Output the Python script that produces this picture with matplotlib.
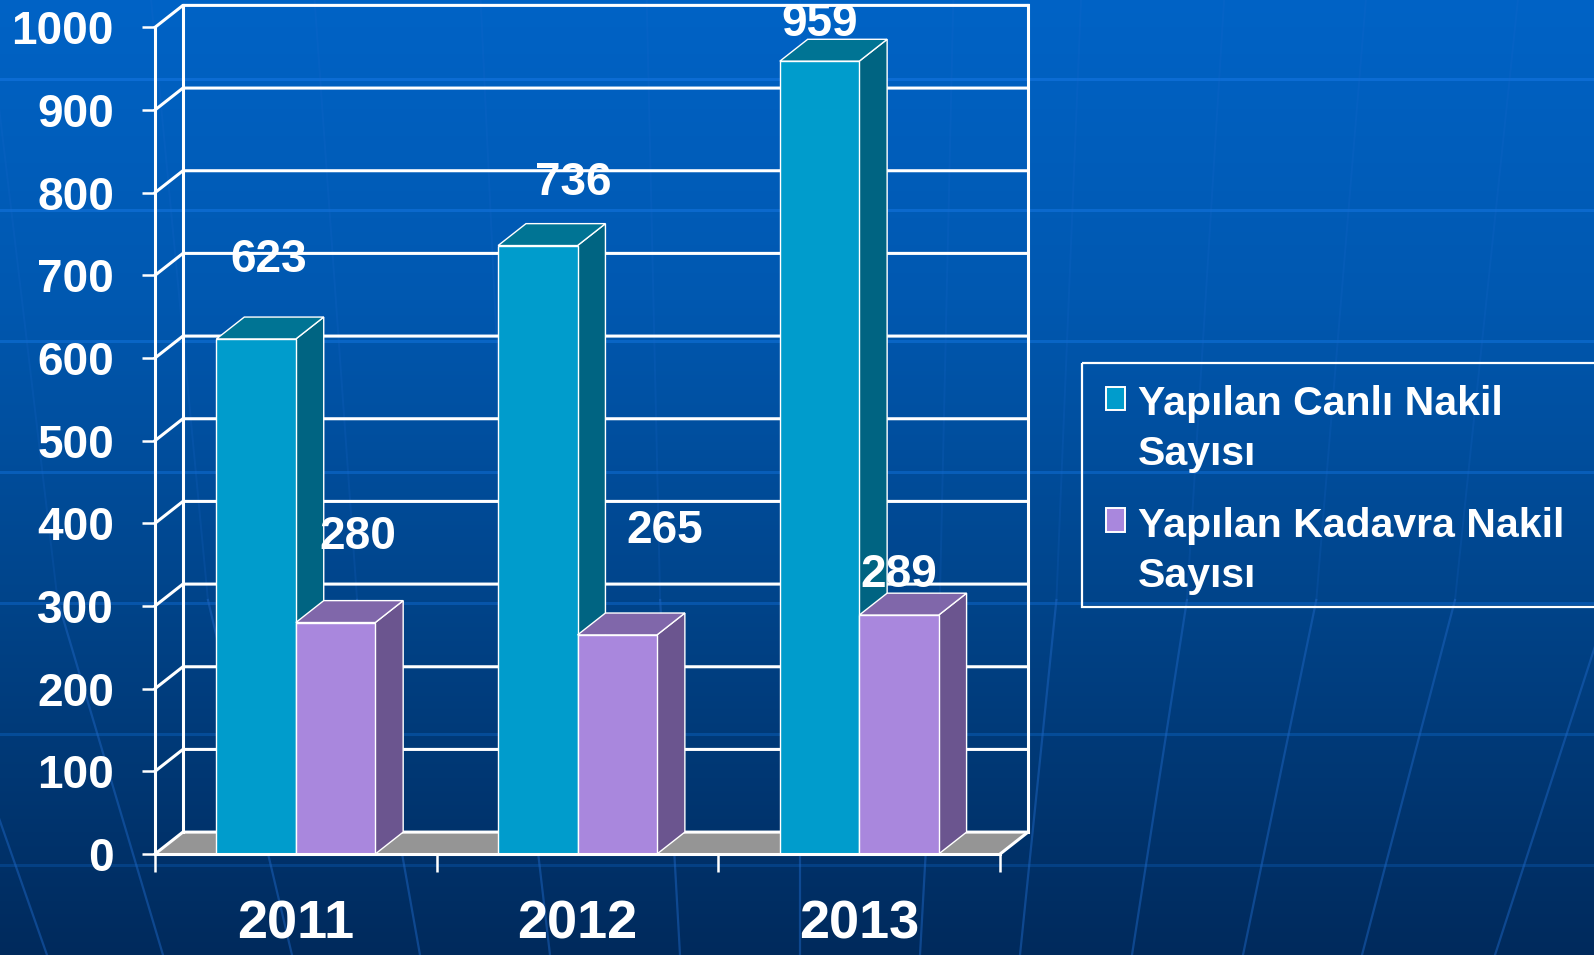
import numpy as np
import matplotlib.pyplot as plt
from matplotlib.patches import Polygon, Rectangle

plt.rcParams['font.family'] = ['Liberation Sans', 'DejaVu Sans']
plt.rcParams['font.weight'] = 'bold'

# data
years = ["2011", "2012", "2013"]
canli = [623, 736, 959]
kadavra = [280, 265, 289]
series_names = ["Yapılan Canlı Nakil\nSayısı", "Yapılan Kadavra Nakil\nSayısı"]
y_ticks = [0, 100, 200, 300, 400, 500, 600, 700, 800, 900, 1000]

# where the value labels sit relative to their bar (category units, value units)
label_dx = [[0.043, 0.125, 0.0], [0.078, 0.167, 0.0]]
label_dy = [[96, 76, 45], [104, 126, 48]]

W, H = 1594, 955
DX, DY = 0.099, 26.5      # fake depth of the 3d box
BAR_W = 0.282
front_c = ["#009ccc", "#a987dd"]
side_c = ["#006482", "#6b558f"]
top_c = ["#007494", "#8067aa"]
floor_c = "#959595"

fig = plt.figure(figsize=(W / 100, H / 100), dpi=100)

# background: vertical blue gradient with faint template lines
bg = fig.add_axes([0, 0, 1, 1], zorder=-1)
bg.set_xlim(0, W)
bg.set_ylim(H, 0)
bg.axis('off')
stops_y = [0, 300, 600, H]
stops = np.array([[0, 99, 198], [0, 88, 176], [0, 68, 138], [0, 42, 92]]) / 255
yy = np.arange(H)
grad = np.stack([np.interp(yy, stops_y, stops[:, k]) for k in range(3)], axis=1)
bg.imshow(grad[:, None, :], extent=[0, W, H, 0], aspect='auto', interpolation='bilinear')
for ys in np.arange(79, H, 131):
    bg.axhline(ys, color='#1272dc', lw=2.2, alpha=0.75 - 0.55 * ys / H)
for xb in [47, 163, 292, 420, 550, 680, 800, 920, 1020, 1132, 1243, 1362, 1495]:
    s = (xb - 800) / (955 - 3100)
    lo = np.linspace(600, H, 20)
    bg.plot(xb + s * (lo - 955), lo, color='#1d64c0', lw=1.6, alpha=0.5)
    x600 = xb + s * (600 - 955)
    hi = np.linspace(0, 600, 20)
    bg.plot(x600 + 0.4 * s * (hi - 600), hi, color='#1d6ad0', lw=1.4, alpha=0.18)

# main chart axes, x in category units, y in values
ax = fig.add_axes([155 / W, (H - 854) / H, 3.2 * 281.7 / W, 1030 * 0.8267 / H])
ax.set_xlim(0, 3.2)
ax.set_ylim(0, 1030)
ax.patch.set_alpha(0)
for sp in ax.spines.values():
    sp.set_visible(False)

n = len(years)
grid_kw = dict(color='white', lw=2.2, clip_on=False, solid_capstyle='projecting')

# floor
ax.add_patch(Polygon([(0, 0), (n, 0), (n + DX, DY), (DX, DY)], closed=True,
                     fc=floor_c, ec='none', zorder=1))
# back wall + side wall grid
for v in y_ticks:
    ax.plot([0, DX, n + DX], [v, v + DY, v + DY], zorder=2, **grid_kw)
ax.plot([DX, DX], [DY, y_ticks[-1] + DY], zorder=2, **grid_kw)
ax.plot([n + DX, n + DX], [DY, y_ticks[-1] + DY], zorder=2, **grid_kw)
ax.plot([0, 0], [0, y_ticks[-1]], zorder=2, **grid_kw)

# bars with fake depth
for k, vals in enumerate([canli, kadavra]):
    xs = np.arange(n) + 0.5 - BAR_W + k * BAR_W
    z = 3 + k
    for x0, v in zip(xs, vals):
        x1 = x0 + BAR_W
        ax.add_patch(Polygon([(x1, 0), (x1 + DX, DY), (x1 + DX, v + DY), (x1, v)],
                             closed=True, fc=side_c[k], ec='white', lw=1, zorder=z))
        ax.add_patch(Polygon([(x0, v), (x1, v), (x1 + DX, v + DY), (x0 + DX, v + DY)],
                             closed=True, fc=top_c[k], ec='white', lw=1, zorder=z))
    ax.bar(xs, vals, width=BAR_W, align='edge', color=front_c[k],
           edgecolor='white', lw=1, zorder=z)
    for i, (x0, v) in enumerate(zip(xs, vals)):
        ax.text(x0 + BAR_W / 2 + label_dx[k][i], v + label_dy[k][i], str(v),
                ha='center', va='center', color='white', fontsize=33,
                fontweight='bold', zorder=7, clip_on=False)

# front edges
ax.plot([0, n], [0, 0], zorder=6, **grid_kw)
ax.plot([n, n + DX], [0, DY], zorder=6, **grid_kw)

ax.set_yticks(y_ticks)
ax.set_yticklabels([str(t) for t in y_ticks])
ax.tick_params(axis='y', colors='white', length=9.6, width=1.8, pad=20, labelsize=33)
ax.set_xticks(range(n + 1))
ax.set_xticklabels([])
ax.set_xticks(np.arange(n) + 0.5, minor=True)
ax.set_xticklabels(years, minor=True)
ax.tick_params(axis='x', which='major', colors='white', length=13, width=1.8)
ax.tick_params(axis='x', which='minor', length=0, pad=33, labelsize=39,
               labelcolor='white')

# legend box, drawn in pixel space of the background axes
bg.add_patch(Rectangle((1082, 363), 600, 244, fc='none', ec='white', lw=1.6,
                       clip_on=False, zorder=3))
for k, name in enumerate(series_names):
    y0 = 415 + k * 121.7
    bg.add_patch(Rectangle((1106.5, y0 - 28.3), 18.5, 23.3, fc=front_c[k],
                           ec='white', lw=1.4, zorder=3))
    for j, line in enumerate(name.split("\n")):
        bg.text(1138, y0 + j * 50, line, color='white', fontsize=29.5,
                fontweight='bold', va='baseline', ha='left', zorder=3)

fig.savefig("out.png", dpi=100)
